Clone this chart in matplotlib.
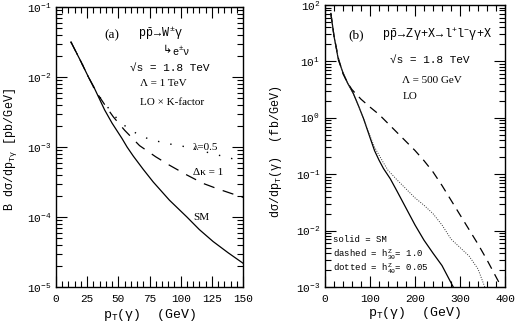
import numpy as np
import matplotlib
matplotlib.use("Agg")
import matplotlib.pyplot as plt
from matplotlib.ticker import LogLocator, MultipleLocator, NullFormatter, LogFormatterMathtext

plt.rcParams['font.family'] = ['Liberation Mono', 'DejaVu Sans']
plt.rcParams['mathtext.fontset'] = 'custom'
plt.rcParams['mathtext.rm'] = 'Liberation Mono'
plt.rcParams['mathtext.it'] = 'Liberation Mono'
plt.rcParams['mathtext.bf'] = 'Liberation Mono:bold'

# ---- Panel (a): p pbar -> W gamma, B dsigma/dpT [pb/GeV]
a_x_sm = [12, 20, 26, 30, 39, 45, 53, 57, 62, 70, 78, 91, 105, 115, 126, 138, 150]
a_log_sm = [-1.50, -1.78, -2.00, -2.13, -2.47, -2.66, -2.88, -3.00, -3.13, -3.32, -3.50,
            -3.76, -4.00, -4.18, -4.35, -4.51, -4.66]
a_x_dk = [12, 20, 26, 30, 34, 40, 46, 55, 67, 80, 91, 105, 118, 130, 140, 150]
a_log_dk = [-1.50, -1.78, -2.00, -2.14, -2.26, -2.42, -2.57, -2.76, -2.98, -3.14, -3.26,
            -3.40, -3.52, -3.60, -3.66, -3.72]
a_x_lam = [12, 20, 26, 30, 34, 40, 46, 51, 60, 67, 75, 89, 105, 120, 140, 150]
a_log_lam = [-1.50, -1.78, -2.00, -2.14, -2.26, -2.40, -2.53, -2.64, -2.76, -2.83, -2.89,
             -2.95, -3.00, -3.07, -3.16, -3.21]

# ---- Panel (b): p pbar -> Z gamma, dsigma/dpT [fb/GeV]
b_x_sm = [13, 20, 30, 40, 50, 63, 75, 85, 100, 110, 120, 130, 145, 160, 180, 200, 220, 240, 260, 285]
b_log_sm = [1.85, 1.45, 1.02, 0.80, 0.62, 0.43, 0.20, 0.00, -0.35, -0.58, -0.75, -0.90,
            -1.08, -1.30, -1.60, -1.90, -2.17, -2.40, -2.62, -3.00]
b_x_h3 = [13, 20, 30, 40, 50, 60, 80, 100, 120, 140, 160, 180, 200, 220, 240, 260, 280,
          300, 320, 340, 360, 390]
b_log_h3 = [1.85, 1.45, 1.05, 0.78, 0.62, 0.50, 0.33, 0.19, 0.06, -0.10, -0.26, -0.42,
            -0.58, -0.76, -0.96, -1.20, -1.46, -1.72, -1.98, -2.24, -2.52, -2.97]
b_x_h4 = [13, 20, 30, 40, 50, 63, 75, 85, 100, 110, 120, 130, 140, 160, 180, 200, 220,
          240, 260, 280, 300, 320, 340, 355]
b_log_h4 = [1.85, 1.45, 1.02, 0.80, 0.62, 0.43, 0.20, 0.00, -0.32, -0.52, -0.66, -0.80,
            -0.93, -1.10, -1.26, -1.42, -1.55, -1.70, -1.90, -2.15, -2.30, -2.45, -2.68, -3.00]

fig = plt.figure(figsize=(5.2, 3.27), dpi=100)
axa = fig.add_axes([56/520, 40/327, 187/520, 280/327])
axb = fig.add_axes([325/520, 40/327, 180/520, 282/327])

def ten(v):
    return 10 ** np.asarray(v, dtype=float)

lw = 0.9
axa.plot(a_x_sm, ten(a_log_sm), color='black', lw=lw)
axa.plot(a_x_dk, ten(a_log_dk), color='black', lw=lw, dashes=(9, 7))
axa.plot(a_x_lam, ten(a_log_lam), color='black', lw=1.0, dashes=(1, 8))

axb.plot(b_x_sm, ten(b_log_sm), color='black', lw=lw)
axb.plot(b_x_h3, ten(b_log_h3), color='black', lw=lw, dashes=(7, 5))
axb.plot(b_x_h4, ten(b_log_h4), color='#333333', lw=0.7, dashes=(1, 1.5))

def style(ax, xmax, xmaj, xmin, ylo, yhi):
    ax.set_yscale('log')
    ax.set_xlim(0, xmax)
    ax.set_ylim(ylo, yhi)
    ax.xaxis.set_major_locator(MultipleLocator(xmaj))
    ax.xaxis.set_minor_locator(MultipleLocator(xmin))
    ax.yaxis.set_major_locator(LogLocator(base=10, numticks=20))
    ax.yaxis.set_minor_locator(LogLocator(base=10, subs=np.arange(2, 10), numticks=20))
    ax.yaxis.set_minor_formatter(NullFormatter())
    ax.yaxis.set_major_formatter(LogFormatterMathtext())
    ax.tick_params(which='both', direction='in', top=True, right=True, labelsize=8, width=0.8)
    ax.tick_params(which='major', length=8)
    ax.tick_params(which='minor', length=4)
    ax.tick_params(axis='x', pad=5)
    for s in ax.spines.values():
        s.set_linewidth(1.0)

style(axa, 150, 25, 5, 1e-5, 1e-1)
style(axb, 400, 100, 20, 1e-3, 1e2)

axa.set_xlabel(r'p$_{\rm T}$($\gamma$)  (GeV)', fontsize=9.5)
axa.xaxis.set_label_coords(0.5, -0.07)
axa.set_ylabel(r'B d$\sigma$/dp$_{\rm T\gamma}$ [pb/GeV]', fontsize=8.5)
axa.yaxis.set_label_coords(-0.2, 0.49)

axb.set_xlabel(r'p$_{\rm T}$($\gamma$)  (GeV)', fontsize=9.5)
axb.xaxis.set_label_coords(0.5, -0.065)
axb.set_ylabel(r'd$\sigma$/dp$_{\rm T}$($\gamma$)  (fb/GeV)', fontsize=8.5)
axb.yaxis.set_label_coords(-0.23, 0.48)

serif = 'Liberation Serif'
mono = ['Liberation Mono', 'DejaVu Sans']
ta = axa.transAxes
axa.text(0.30, 0.90, '(a)', transform=ta, family=serif, fontsize=9.5, ha='center', va='center')
axa.text(0.44, 0.907, r'p$\bar{\rm p}$$\rightarrow$W$^{\pm}\gamma$', transform=ta, fontsize=8.5, ha='left', va='center')
axa.text(0.57, 0.846, '↳', transform=ta, family=['DejaVu Sans'], fontsize=8, ha='left', va='center')
axa.text(0.62, 0.84, r'e$^{\pm}\nu$', transform=ta, fontsize=7.5, ha='left', va='center')
axa.text(0.396, 0.782, '√s = 1.8 TeV', transform=ta, family=mono, fontsize=8, ha='left', va='center')
axa.text(0.45, 0.725, 'Λ = 1 TeV', transform=ta, family=serif, fontsize=8, ha='left', va='center')
axa.text(0.45, 0.66, 'LO × K-factor', transform=ta, family=serif, fontsize=8, ha='left', va='center')
axa.text(0.733, 0.50, 'λ=0.5', transform=ta, family=serif, fontsize=8, ha='left', va='center')
axa.text(0.733, 0.41, 'Δκ = 1', transform=ta, family=serif, fontsize=8, ha='left', va='center')
axa.text(0.733, 0.25, 'SM', transform=ta, family=serif, fontsize=8, ha='left', va='center')

tb = axb.transAxes
axb.text(0.176, 0.894, '(b)', transform=tb, family=serif, fontsize=9.5, ha='center', va='center')
axb.text(0.315, 0.894, r'p$\bar{\rm p}$$\rightarrow$Z$\gamma$+X$\rightarrow$l$^{+}$l$^{-}\gamma$+X',
         transform=tb, fontsize=8.5, ha='left', va='center')
axb.text(0.361, 0.805, '√s = 1.8 TeV', transform=tb, family=mono, fontsize=8, ha='left', va='center')
axb.text(0.426, 0.734, 'Λ = 500 GeV', transform=tb, family=serif, fontsize=8, ha='left', va='center')
axb.text(0.433, 0.677, 'LO', transform=tb, family=serif, fontsize=8, ha='left', va='center')
axb.text(0.043, 0.167, 'solid = SM', transform=tb, fontsize=6.5, ha='left', va='center')
axb.text(0.043, 0.113, r'dashed = h$^{\rm Z}_{30}$= 1.0', transform=tb, fontsize=6.5, ha='left', va='center')
axb.text(0.043, 0.064, r'dotted = h$^{\rm Z}_{40}$= 0.05', transform=tb, fontsize=6.5, ha='left', va='center')

fig.savefig('out.png', dpi=100)
